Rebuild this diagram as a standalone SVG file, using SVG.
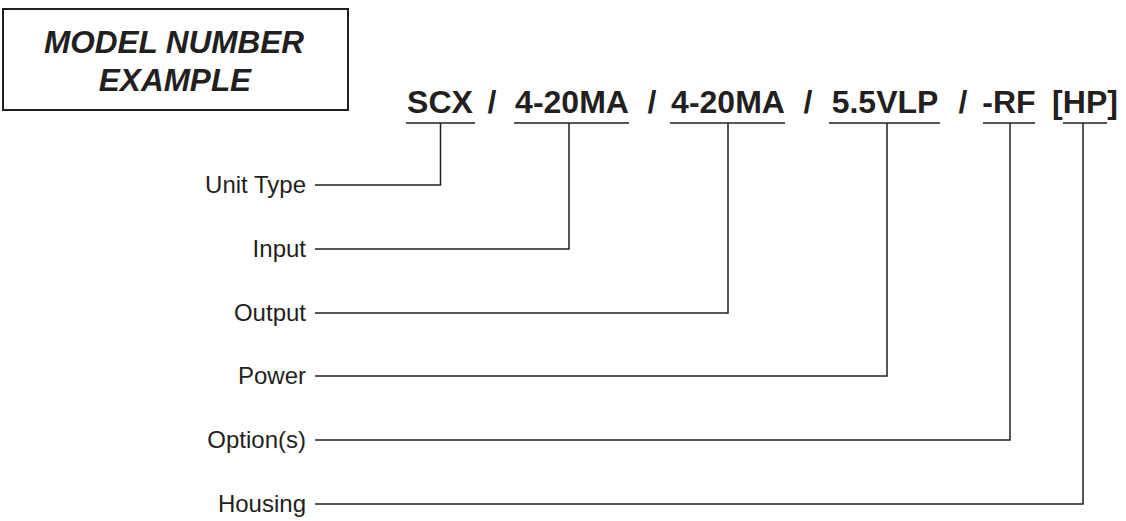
<svg xmlns="http://www.w3.org/2000/svg" width="1126" height="521" viewBox="0 0 1126 521">
<style>
.title{font-family:"Liberation Sans",Arial,sans-serif;font-weight:bold;font-style:italic;font-size:31.5px;fill:#231f20;text-anchor:middle}
.code{font-family:"Liberation Sans",Arial,sans-serif;font-weight:bold;font-size:32px;fill:#231f20;text-anchor:middle}
.lbl{font-family:"Liberation Sans",Arial,sans-serif;font-size:24px;fill:#231f20;text-anchor:end}
.ln{fill:none;stroke:#231f20;stroke-width:1.5}
</style>
<rect width="1126" height="521" fill="#fff"/>
<g id="title">
<rect x="3" y="9" width="345" height="101" fill="#fff" stroke="#231f20" stroke-width="2"/>
<text class="title" x="174" y="53">MODEL NUMBER</text>
<text class="title" x="175" y="91">EXAMPLE</text>
</g>
<g id="model-number">
<text class="code" x="440" y="113">SCX</text>
<text class="code" x="492" y="113">/</text>
<text class="code" x="572" y="113">4-20MA</text>
<text class="code" x="652" y="113">/</text>
<text class="code" x="728" y="113">4-20MA</text>
<text class="code" x="808" y="113">/</text>
<text class="code" x="885" y="113">5.5VLP</text>
<text class="code" x="963" y="113">/</text>
<text class="code" x="1009" y="113">-RF</text>
<text class="code" x="1085" y="113">[HP]</text>
</g>
<g id="unit-type"><text class="lbl" x="306" y="193">Unit Type</text></g>
<g id="input"><text class="lbl" x="306" y="257">Input</text></g>
<g id="output"><text class="lbl" x="306" y="321">Output</text></g>
<g id="power"><text class="lbl" x="306" y="384">Power</text></g>
<g id="options"><text class="lbl" x="306" y="448">Option(s)</text></g>
<g id="housing"><text class="lbl" x="306" y="512">Housing</text></g>
<g id="connectors">
<path class="ln" d="M406 123H475M440.5 123V185H315"/>
<path class="ln" d="M514 123H629M569 123V249H315"/>
<path class="ln" d="M670 123H785M728 123V313H315"/>
<path class="ln" d="M829 123H940M887 123V376H315"/>
<path class="ln" d="M983 123H1035M1010 123V440H315"/>
<path class="ln" d="M1063 123H1107M1083 123V504H315"/>
</g>
</svg>
